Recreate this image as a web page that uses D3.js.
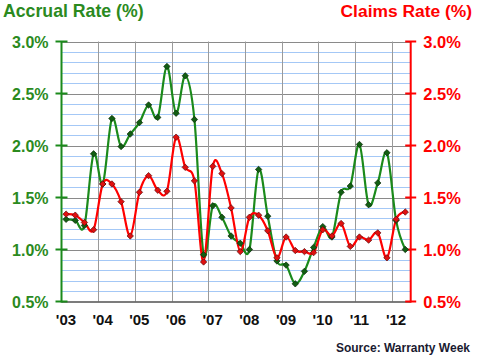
<!DOCTYPE html>
<html><head><meta charset="utf-8">
<script src="https://cdn.jsdelivr.net/npm/d3@7"></script>
<style>body{margin:0;background:#fff}svg{display:block}</style>
</head><body>
<svg id="c" width="480" height="355"></svg>
<script>
const quarters = ["2003Q1","2003Q2","2003Q3","2003Q4","2004Q1","2004Q2","2004Q3","2004Q4",
"2005Q1","2005Q2","2005Q3","2005Q4","2006Q1","2006Q2","2006Q3","2006Q4",
"2007Q1","2007Q2","2007Q3","2007Q4","2008Q1","2008Q2","2008Q3","2008Q4",
"2009Q1","2009Q2","2009Q3","2009Q4","2010Q1","2010Q2","2010Q3","2010Q4",
"2011Q1","2011Q2","2011Q3","2011Q4","2012Q1","2012Q2"];
const accrualRate = [1.29,1.28,1.23,1.92,1.63,2.26,1.99,2.11,
2.22,2.39,2.27,2.76,2.31,2.67,2.25,0.95,
1.42,1.31,1.13,1.06,1.00,1.77,1.32,0.89,
0.85,0.67,0.79,1.02,1.22,1.12,1.55,1.61,
2.01,1.43,1.64,1.93,1.28,1.00];
const claimsRate = [1.34,1.33,1.26,1.19,1.63,1.63,1.46,1.13,
1.55,1.71,1.57,1.56,2.08,1.79,1.66,0.88,
1.80,1.73,1.40,0.98,1.31,1.33,1.18,0.92,
1.12,0.99,0.98,0.97,1.19,1.13,1.25,1.03,
1.12,1.09,1.16,0.92,1.29,1.36];
const yearTicks = [2003,2004,2005,2006,2007,2008,2009,2010,2011,2012];
const yearLabels = ["'03","'04","'05","'06","'07","'08","'09","'10","'11","'12"];
const rateTicks = [0.5,1.0,1.5,2.0,2.5,3.0];

const svg = d3.select("#c");
const font = "'Liberation Sans', Arial, sans-serif";
const green = "#1b8a1b", greenText = "#2b8a1e", red = "#ff0000";
const L = 61.5, R = 410.7, T = 41.5, B = 301.5;

const qpos = q => +q.slice(0,4) + (+q.slice(5) - 0.5) / 4;
const x = d3.scaleLinear().domain([2003, 2012.523]).range([L, R]);
const y = d3.scaleLinear().domain([0.5, 3.0]).range([B, T]);

// minor gridlines
const minor = d3.range(6, 30).map(v => v / 10).filter(v => Math.abs(v*2 - Math.round(v*2)) > 1e-6);
svg.append("g").selectAll("line").data(minor).join("line")
  .attr("x1", L).attr("x2", R).attr("y1", d => Math.round(y(d)) + 0.5).attr("y2", d => Math.round(y(d)) + 0.5)
  .attr("stroke", "#a4c8f6").attr("stroke-width", 1);
// major gridlines
svg.append("g").selectAll("line").data(rateTicks.slice(1)).join("line")
  .attr("x1", L).attr("x2", R).attr("y1", d => Math.round(y(d)) + 0.5).attr("y2", d => Math.round(y(d)) + 0.5)
  .attr("stroke", "#8a8a8a").attr("stroke-width", 1);
// vertical gridlines
svg.append("g").selectAll("line").data(yearTicks.slice(1)).join("line")
  .attr("x1", d => Math.round(x(d)) + 0.5).attr("x2", d => Math.round(x(d)) + 0.5).attr("y1", T).attr("y2", B)
  .attr("stroke", "#9a9a9a").attr("stroke-width", 1);

// bottom axis line
svg.append("line").attr("x1", L).attr("x2", R).attr("y1", B + 0.5).attr("y2", B + 0.5)
  .attr("stroke", "#505050").attr("stroke-width", 1.5);

// left axis
const gl = svg.append("g").attr("transform", `translate(${L},0)`);
gl.call(d3.axisLeft(y).tickValues(rateTicks).tickFormat(d3.format(".1f")).tickSize(0).tickPadding(13));
gl.select(".domain").remove();
gl.selectAll("text").text(d => d3.format(".1f")(d) + "%")
  .attr("fill", greenText).style("font", `bold 16px ${font}`).attr("dy", "0.36em");
gl.append("line").attr("x1", 0).attr("x2", 0).attr("y1", T).attr("y2", B + 1).attr("stroke", green).attr("stroke-width", 2);
gl.selectAll(".tk").data(rateTicks).join("line").attr("class", "tk")
  .attr("x1", -6).attr("x2", 6).attr("y1", d => y(d)).attr("y2", d => y(d)).attr("stroke", green).attr("stroke-width", 2);

// right axis
const gr = svg.append("g").attr("transform", `translate(${R},0)`);
gr.call(d3.axisRight(y).tickValues(rateTicks).tickSize(0).tickPadding(12.5));
gr.select(".domain").remove();
gr.selectAll("text").text(d => d3.format(".1f")(d) + "%")
  .attr("fill", red).style("font", `bold 16.5px ${font}`).attr("dy", "0.36em");
gr.append("line").attr("x1", 0).attr("x2", 0).attr("y1", T).attr("y2", B + 1).attr("stroke", red).attr("stroke-width", 2);
gr.selectAll(".tk").data(rateTicks).join("line").attr("class", "tk")
  .attr("x1", -5.5).attr("x2", 5.5).attr("y1", d => y(d)).attr("y2", d => y(d)).attr("stroke", red).attr("stroke-width", 2);

// x labels
svg.append("g").selectAll("text").data(yearTicks).join("text")
  .attr("x", d => x(d) + 4.5).attr("y", 325).attr("text-anchor", "middle")
  .style("font", `bold 15px ${font}`).attr("fill", "#111")
  .text((d, i) => yearLabels[i]);

// lines
const line = vals => d3.line().x((d, i) => x(qpos(quarters[i]))).y(d => y(d)).curve(d3.curveCardinal.tension(0))(vals);
svg.append("path").attr("d", line(accrualRate)).attr("fill", "none").attr("stroke", green).attr("stroke-width", 2.2);
svg.append("path").attr("d", line(claimsRate)).attr("fill", "none").attr("stroke", red).attr("stroke-width", 2.2);

const r = 3.2;
const diamond = `M0,${-r}L${r},0L0,${r}L${-r},0Z`;
svg.append("g").selectAll("path").data(accrualRate).join("path")
  .attr("transform", (d, i) => `translate(${x(qpos(quarters[i]))},${y(d)})`)
  .attr("d", diamond).attr("fill", "#125e12").attr("stroke", "#0a2a0a").attr("stroke-width", 0.7);
svg.append("g").selectAll("path").data(claimsRate).join("path")
  .attr("transform", (d, i) => `translate(${x(qpos(quarters[i]))},${y(d)})`)
  .attr("d", diamond).attr("fill", "#e01010").attr("stroke", "#5a0a0a").attr("stroke-width", 0.7);

// titles
svg.append("text").attr("x", 3).attr("y", 17).style("font", `bold 17.7px ${font}`).attr("fill", greenText).text("Accrual Rate (%)");
svg.append("text").attr("x", 472).attr("y", 17).attr("text-anchor", "end").style("font", `bold 17.4px ${font}`).attr("fill", red).text("Claims Rate (%)");
svg.append("text").attr("x", 470).attr("y", 352).attr("text-anchor", "end").style("font", `bold 12px ${font}`).attr("fill", "#1a1a30").text("Source: Warranty Week");
</script>
</body></html>
